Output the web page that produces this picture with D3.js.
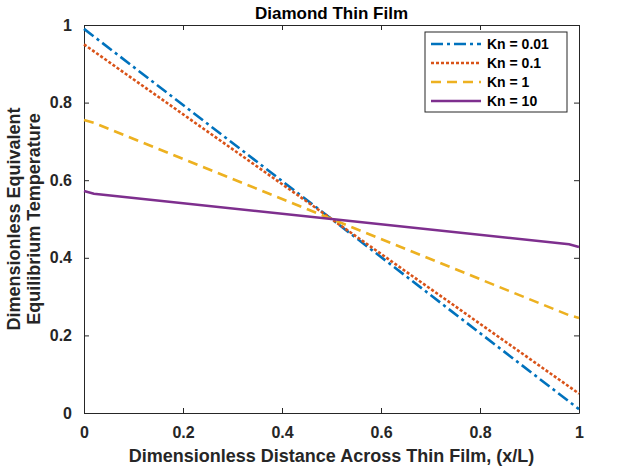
<!DOCTYPE html>
<html><head><meta charset="utf-8">
<script src="https://cdn.jsdelivr.net/npm/d3@7"></script>
<style>body{margin:0;background:#fff;font-family:Helvetica,Arial,"Liberation Sans",sans-serif;}</style>
</head><body><svg id="chart" width="640" height="469"></svg>
<script>
const seriesNames = ["Kn = 0.01", "Kn = 0.1", "Kn = 1", "Kn = 10"];
const kn001 = [[0, 0.99], [1, 0.01]];
const kn01 = [[0, 0.95], [1, 0.05]];
const kn1 = [[0, 0.755], [0.02, 0.748], [0.5, 0.5], [0.98, 0.252], [1, 0.245]];
const kn10 = [[0, 0.572], [0.02, 0.565], [0.5, 0.5], [0.98, 0.435], [1, 0.428]];
const ticks = [0, 0.2, 0.4, 0.6, 0.8, 1];

const colors = ["#0072BD", "#D95319", "#EDB120", "#7E2F8E"];
const dashes = ["12,4,3,4", "3,2", "10,6", null];
const widths = [2.6, 2.6, 2.6, 2.6];
const allSeries = [kn001, kn01, kn1, kn10];

const svg = d3.select("#chart");
const L = 84, R = 579, T = 25, B = 413;
const x = d3.scaleLinear().domain([0, 1]).range([L, R]);
const y = d3.scaleLinear().domain([0, 1]).range([B, T]);
const fmt = d => d === 0 || d === 1 ? d : d.toFixed(1);

svg.append("g").attr("transform", "translate(0," + B + ")")
  .call(d3.axisBottom(x).tickValues(ticks).tickFormat(fmt).tickSizeInner(-5).tickSizeOuter(0).tickPadding(14));
svg.append("g").attr("transform", "translate(" + L + ",0)")
  .call(d3.axisLeft(y).tickValues(ticks).tickFormat(fmt).tickSizeInner(-5).tickSizeOuter(0).tickPadding(12));
svg.append("g").attr("transform", "translate(0," + T + ")")
  .call(d3.axisTop(x).tickValues(ticks).tickFormat("").tickSizeInner(-5).tickSizeOuter(0));
svg.append("g").attr("transform", "translate(" + R + ",0)")
  .call(d3.axisRight(y).tickValues(ticks).tickFormat("").tickSizeInner(-5).tickSizeOuter(0));
svg.selectAll(".domain").attr("stroke", "#262626");
svg.selectAll(".tick line").attr("stroke", "#262626");
svg.selectAll(".tick text").attr("font-size", 16).attr("font-weight", "bold").attr("fill", "#262626")
  .attr("font-family", "Helvetica,Arial,'Liberation Sans',sans-serif");

const line = d3.line().x(d => x(d[0])).y(d => y(d[1]));
allSeries.forEach((s, i) => {
  svg.append("path").datum(s).attr("d", line).attr("fill", "none")
    .attr("stroke", colors[i]).attr("stroke-width", widths[i])
    .attr("stroke-dasharray", dashes[i]);
});

svg.append("text").attr("x", (L + R) / 2).attr("y", 19).attr("text-anchor", "middle")
  .attr("font-size", 17).attr("font-weight", "bold").text("Diamond Thin Film");
svg.append("text").attr("x", (L + R) / 2).attr("y", 462).attr("text-anchor", "middle")
  .attr("font-size", 18).attr("font-weight", "bold").attr("fill", "#262626")
  .text("Dimensionless Distance Across Thin Film, (x/L)");
const yl = svg.append("text").attr("transform", "translate(20," + ((T + B) / 2) + ") rotate(-90)")
  .attr("text-anchor", "middle").attr("font-size", 18).attr("font-weight", "bold").attr("fill", "#262626");
yl.append("tspan").attr("x", 0).attr("dy", 0).text("Dimensionless Equivalent");
yl.append("tspan").attr("x", 0).attr("dy", 20).text("Equilibrium Temperature");

const lg = svg.append("g").attr("transform", "translate(425,32)");
lg.append("rect").attr("width", 142).attr("height", 80).attr("fill", "#fff").attr("stroke", "#262626");
seriesNames.forEach((n, i) => {
  const yy = 12 + i * 19;
  lg.append("line").attr("x1", 6).attr("x2", 56).attr("y1", yy).attr("y2", yy)
    .attr("stroke", colors[i]).attr("stroke-width", widths[i]).attr("stroke-dasharray", dashes[i]);
  lg.append("text").attr("x", 62).attr("y", yy + 5).attr("font-size", 14).attr("font-weight", "bold").text(n);
});
</script></body></html>
